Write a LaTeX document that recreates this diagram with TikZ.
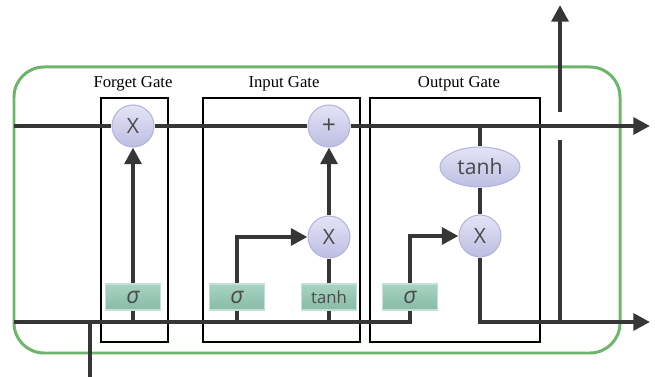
\documentclass[tikz,border=0pt]{standalone}
\usepackage{fontspec}
\setmainfont{Liberation Serif}
\newfontfamily\opfont{Open Sans}
\usetikzlibrary{arrows.meta,shapes.geometric}

\definecolor{wirec}{HTML}{363636}
\definecolor{cellc}{HTML}{6DB56A}
\definecolor{optext}{HTML}{4A4A4A}

\tikzset{
  wire/.style={draw=wirec, line width=2.5pt},
  flow/.style={wire, -{Triangle[length=9.5pt,width=9.5pt]}},
  opnode/.style={circle, minimum size=0.84cm, inner sep=0pt,
    top color=lavtop, bottom color=lavbot, draw=lavline, line width=0.6pt,
    text=optext, font=\opfont\fontsize{12}{12}\selectfont},
  actbox/.style={rectangle, minimum width=1.1cm, minimum height=0.52cm, inner sep=0pt,
    top color=grntop, bottom color=grnbot, draw=grnline, line width=0.6pt,
    text=optext, font=\opfont\fontsize{9.5}{9.5}\selectfont},
  gatebox/.style={draw=black, line width=1.1pt},
  gatelabel/.style={font=\fontsize{9.5}{9.5}\selectfont}
}
\definecolor{lavtop}{HTML}{E4E4F6}
\definecolor{lavbot}{HTML}{BDBDE3}
\definecolor{lavline}{HTML}{B4B4DC}
\definecolor{grntop}{HTML}{A9D3C3}
\definecolor{grnbot}{HTML}{86BBA6}
\definecolor{grnline}{HTML}{C2E0D4}
\newcommand{\sigmark}{{\fontsize{13}{13}\selectfont\itshape σ}}

\begin{document}
\begin{tikzpicture}[x=0.02cm, y=-0.02cm]
  \useasboundingbox (0,0) rectangle (655,377);

  % cell outline
  \draw[draw=cellc, line width=1.7pt, rounded corners=0.6cm] (14,67) rectangle (620,353);

  % gates
  \draw[gatebox] (101,98) rectangle (168,342);
  \draw[gatebox] (203,98) rectangle (360,342);
  \draw[gatebox] (370,98) rectangle (540,342);
  \node[gatelabel] (lforget) at (133,84) {Forget Gate};
  \node[gatelabel] (linput) at (284,84) {Input Gate};
  \node[gatelabel] (loutput) at (459,84) {Output Gate};

  % operations
  \node[opnode] (fx) at (133,126) {X};
  \node[opnode, font=\opfont\fontsize{14}{14}\selectfont] (plus) at (329,126) {+};
  \node[opnode] (ix) at (329,237) {X};
  \node[opnode] (ox) at (480,236) {X};
  \node[ellipse, minimum width=1.6cm, minimum height=0.8cm, inner sep=0pt,
    top color=lavtop, bottom color=lavbot, draw=lavline, line width=0.6pt,
    text=optext, font=\opfont\fontsize{12}{12}\selectfont] (otanh) at (480,167) {tanh};

  \node[actbox] (fsig) at (133,297) {\sigmark};
  \node[actbox] (isig) at (237,297) {\sigmark};
  \node[actbox] (itanh) at (329,297) {tanh};
  \node[actbox] (osig) at (410,297) {\sigmark};

  % ends of the wires
  \coordinate (cin) at (14,126);
  \coordinate (cout) at (650,126);
  \coordinate (hin) at (14,322);
  \coordinate (hout) at (650,322);
  \coordinate (xin) at (90,377);
  \coordinate (hjoin) at (90,322);
  \coordinate (ctap) at (480,126);
  \coordinate (hup) at (560,322);
  \coordinate (hgapa) at (560,140);
  \coordinate (hgapb) at (560,112);
  \coordinate (hnext) at (560,5);

  % cell state
  \draw[wire] (cin) -- (fx.west);
  \draw[wire] (fx.east) -- (plus.west);
  \draw[flow] (plus.east) -- (cout);

  % hidden state
  \draw[wire] (xin) -- (hjoin);
  \draw[wire] (hin) -| (osig.south);
  \draw[wire] (fsig.south) -- (fsig.south |- hin);
  \draw[wire] (isig.south) -- (isig.south |- hin);
  \draw[wire] (itanh.south) -- (itanh.south |- hin);

  \draw[flow] (fsig.north) -- (fx.south);
  \draw[flow] (isig.north) |- (ix.west);
  \draw[wire] (itanh.north) -- (ix.south);
  \draw[flow] (ix.north) -- (plus.south);
  \draw[flow] (osig.north) |- (ox.west);
  \draw[wire] (ctap) -- (otanh.north);
  \draw[wire] (otanh.south) -- (ox.north);
  \draw[flow] (ox.south) |- (hout);

  \draw[wire] (hup) -- (hgapa);
  \draw[flow] (hgapb) -- (hnext);
\end{tikzpicture}
\end{document}
